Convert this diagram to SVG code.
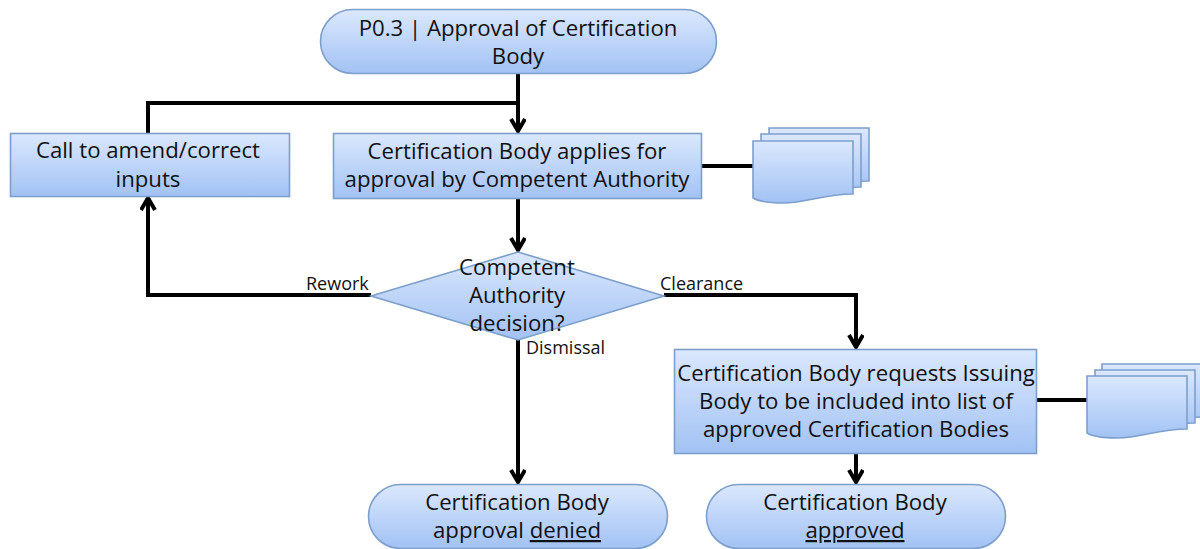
<svg xmlns="http://www.w3.org/2000/svg" width="1200" height="549" viewBox="0 0 1200 549">
<style>
.s{stroke:#7d9fcb;stroke-width:1.6}
.l{fill:none;stroke:#000;stroke-width:4}
.t{font-family:"Open Sans","Noto Sans",sans-serif;font-size:22.200px;fill:#111;text-anchor:middle}
.c{font-family:"Open Sans","Noto Sans",sans-serif;font-size:18px;fill:#111}
</style>
<defs>
<linearGradient id="g" x1="0" y1="0" x2="0" y2="1"><stop offset="0" stop-color="#dbe8fd"/><stop offset="1" stop-color="#a2c2f4"/></linearGradient>
<marker id="a" markerUnits="userSpaceOnUse" markerWidth="20" markerHeight="18" refX="15" refY="8" orient="auto"><path d="M3 1L15 8L3 15" fill="none" stroke="#000" stroke-width="4"/></marker>
<path id="doc" d="M0 0H100V53C70 53 55 62 30 62C15 62 5 60 0 57Z"/>
</defs>
<rect width="1200" height="549" fill="#fff"/>
<g id="connectors">
<path class="l" d="M518 74V131" marker-end="url(#a)"/>
<path class="l" d="M518 103H148V133"/>
<path class="l" d="M518 199V250" marker-end="url(#a)"/>
<path class="l" d="M371 295H148V198" marker-end="url(#a)"/>
<path class="l" d="M664 295H856V347" marker-end="url(#a)"/>
<path class="l" d="M518 340V482" marker-end="url(#a)"/>
<path class="l" d="M856 454V482" marker-end="url(#a)"/>
<path class="l" d="M702 166H753"/>
<path class="l" d="M1037 400H1087"/>
</g>
<g id="start"><rect class="s" x="320.500" y="9.500" width="396" height="64" rx="32" fill="url(#g)"/><text class="t" x="518" y="36">P0.3 | Approval of Certification</text><text class="t" x="518" y="64">Body</text></g>
<g id="amend"><rect class="s" x="10.500" y="133.500" width="279" height="63" fill="url(#g)"/><text class="t" x="148" y="158">Call to amend/correct</text><text class="t" x="148" y="187">inputs</text></g>
<g id="apply"><rect class="s" x="333.500" y="133.500" width="368" height="65" fill="url(#g)"/><text class="t" x="517" y="159">Certification Body applies for</text><text class="t" x="517" y="187">approval by Competent Authority</text></g>
<g id="doc1"><use href="#doc" class="s" x="769" y="128" fill="url(#g)"/><use href="#doc" class="s" x="761" y="134" fill="url(#g)"/><use href="#doc" class="s" x="753" y="141" fill="url(#g)"/></g>
<g id="decision"><path class="s" d="M518 252L664 296L518 340L371 296Z" fill="url(#g)"/><text class="t" x="517" y="275">Competent</text><text class="t" x="517" y="303">Authority</text><text class="t" x="517" y="331">decision?</text></g>
<g id="request"><rect class="s" x="674.500" y="349.500" width="362" height="104" fill="url(#g)"/><text class="t" x="856" y="381">Certification Body requests Issuing</text><text class="t" x="856" y="409">Body to be included into list of</text><text class="t" x="856" y="437">approved Certification Bodies</text></g>
<g id="doc2"><use href="#doc" class="s" x="1102" y="364" fill="url(#g)"/><use href="#doc" class="s" x="1095" y="370" fill="url(#g)"/><use href="#doc" class="s" x="1087" y="376" fill="url(#g)"/></g>
<g id="denied"><rect class="s" x="368.500" y="484.500" width="299" height="64" rx="32" fill="url(#g)"/><text class="t" x="517" y="510">Certification Body</text><text class="t" x="517" y="538">approval <tspan text-decoration="underline">denied</tspan></text></g>
<g id="approved"><rect class="s" x="706.500" y="484.500" width="299" height="64" rx="32" fill="url(#g)"/><text class="t" x="855" y="510">Certification Body</text><text class="t" x="855" y="538" text-decoration="underline">approved</text></g>
<g id="labels"><text class="c" x="306" y="290">Rework</text><text class="c" x="660" y="290">Clearance</text><text class="c" x="526" y="354">Dismissal</text></g>
</svg>
